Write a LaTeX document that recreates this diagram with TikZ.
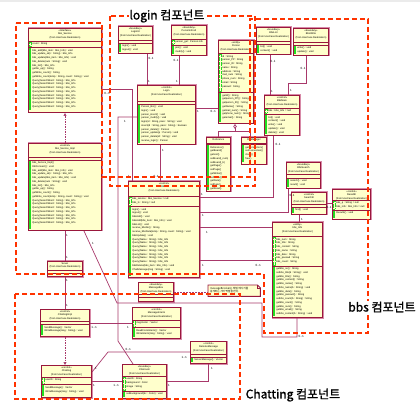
\documentclass[tikz,border=0pt]{standalone}
\usepackage{fontspec}
\setmainfont{Liberation Sans}
\newfontfamily\krfont{Noto Sans CJK KR}
\newfontfamily\krbold{Noto Sans CJK KR}[FakeBold=1.3]
\usetikzlibrary{arrows.meta}
\definecolor{boxfill}{HTML}{FFFFCC}
\definecolor{boxline}{HTML}{99173C}
\definecolor{boxhalo}{HTML}{D88AA8}
\definecolor{conn}{HTML}{A8386A}
\definecolor{comp}{HTML}{FF3300}
\definecolor{gmark}{HTML}{22DD22}
\tikzset{
 cbox/.style={preaction={draw=boxhalo, line width=2pt}, draw=boxline, fill=boxfill, line width=1pt, inner sep=0pt, rectangle},
 csep/.style={draw=boxline, line width=0.75pt},
 htx/.style={anchor=north, inner sep=0pt, align=center, font=\fontsize{2.5}{3.5}\selectfont},
 mtx/.style={anchor=north west, inner sep=0pt, align=left, font=\fontsize{2.5}{3.75}\selectfont},
 gfill/.style={fill=gmark},
 gout/.style={draw=gmark, line width=0.5pt, dash pattern=on 0.8pt off 0.5pt},
 assoc/.style={draw=conn, line width=0.7pt},
 realz/.style={draw=conn, line width=0.7pt, dash pattern=on 1.5pt off 1pt, -{Triangle[open,length=3pt,width=3pt]}},
 mlab/.style={inner sep=0pt, font=\fontsize{3}{3}\selectfont},
 compbox/.style={draw=comp, line width=1.8pt, dash pattern=on 5pt off 3pt},
 comptitle/.style={inner sep=1pt, fill=white, font=\krbold\fontsize{12}{12}\selectfont},
 notebox/.style={draw=boxline, fill=boxfill, line width=0.9pt},
}
\newcommand\ucls[5]{\node[cbox,minimum width=#4pt,minimum height=#5pt,anchor=north west] (#1) at (#2,#3) {};}
\newcommand\usep[2]{\draw[csep] ([yshift=-#2pt]#1.north west) -- ([yshift=-#2pt]#1.north east);}
\newcommand\uhdr[2]{\node[htx] (#1-h) at ([yshift=-1.2pt]#1.north) {#2};}
\newcommand\umem[4]{\node[mtx] (#1-#2) at ([xshift=4.2pt,yshift=-#3pt]#1.north west) {#4};}
\newcommand\ugrn[3]{\fill[gfill] ([xshift=0.7pt,yshift=-#2pt]#1.north west) rectangle ([xshift=3.2pt,yshift=-#3pt]#1.north west);}
\newcommand\ugro[3]{\draw[gout] ([xshift=1pt,yshift=-#2pt]#1.north west) rectangle ([xshift=3pt,yshift=-#3pt]#1.north west);}
\begin{document}
\begin{tikzpicture}[x=1pt,y=-1pt]
\useasboundingbox (0,0) rectangle (420,403);
\fill[black!8] (0,0) rectangle (420,2.5);

% ---------------- classes ----------------
\ucls{bsvc}{28}{28}{73}{84}\usep{bsvc}{13}\usep{bsvc}{19.5}
\uhdr{bsvc}{<<Interface>>\\bbs\_Service\\(from UseCase Realization)}
\ugro{bsvc}{14}{18.5}\umem{bsvc}{a}{14.8}{count : String}
\ugrn{bsvc}{20.5}{82}
\umem{bsvc}{m}{21}{bbs\_add(bbs\_item : bbs\_Info) : void\\bbs\_update\_ok(i : String) : bbs\_Info\\bbs\_update(bbs\_item : bbs\_Info) : void\\bbs\_delete(num : String) : void\\bbs\_list() : bbs\_Info\\getNo\_up() : String\\getWrite\_count() : String\\getWrite\_count(temp : String, count : String) : void\\Query(SearchWord : String) : bbs\_Info\\Query(SearchWord : String) : bbs\_Info\\Query(SearchWord : String) : bbs\_Info\\Query(SearchWord : String) : bbs\_Info\\Query(SearchWord : String) : bbs\_Info\\Query(SearchWord : String) : bbs\_Info\\Query(SearchWord : String) : bbs\_Info\\Query(SearchWord : String) : bbs\_Info}

\ucls{bimp}{28}{143}{73}{87}\usep{bimp}{14}\usep{bimp}{17}
\uhdr{bimp}{<<control>>\\bbs\_Service\_Impl\\(from UseCase Realization)}
\ugrn{bimp}{18}{86}
\umem{bimp}{m}{18.5}{bbs\_Service\_Impl()\\DBConnect() : void\\bbs\_add(bbs\_item : bbs\_Info) : void\\bbs\_update\_ok(i : String) : bbs\_Info\\bbs\_update(bbs\_item : bbs\_Info) : void\\bbs\_delete(num : String) : void\\bbs\_list() : bbs\_Info\\getNo\_up() : String\\getWrite\_count() : String\\getWrite\_count(temp : String, count : String) : void\\Query(SearchWord : String) : bbs\_Info\\Query(SearchWord : String) : bbs\_Info\\Query(SearchWord : String) : bbs\_Info\\Query(SearchWord : String) : bbs\_Info\\Query(SearchWord : String) : bbs\_Info\\Query(SearchWord : String) : bbs\_Info\\Query(SearchWord : String) : bbs\_Info}

\ucls{sever}{47}{261}{35}{15}\usep{sever}{9}\usep{sever}{12}
\uhdr{sever}{Sever\\(from UseCase Realization)}

\ucls{chimpl}{40}{309}{49}{27}\usep{chimpl}{12}\usep{chimpl}{15}
\uhdr{chimpl}{<<control>>\\ChattingImpl\\(from UseCase Realization)}
\ugrn{chimpl}{16}{26}
\umem{chimpl}{m}{17}{SendMessage() : Vector\\WriteMessage(msg : String) : void}

\ucls{chat}{41}{365}{50}{32}\usep{chat}{12}\usep{chat}{19}
\uhdr{chat}{<<control>>\\Chatting\\(from UseCase Realization)}
\ugro{chat}{13}{18}\umem{chat}{a}{13.8}{userID : String}
\ugrn{chat}{20}{31}
\umem{chat}{m}{21.5}{SendMessage() : Vector\\WriteMessage(msg : String) : void}

\ucls{msgint}{132}{307}{48}{31}\usep{msgint}{13}\usep{msgint}{20}
\uhdr{msgint}{<<control>>\\MessageInterm\\(from UseCase Realization)}
\ugro{msgint}{14}{19}\umem{msgint}{a}{14.8}{msgVector : Vector}
\ugrn{msgint}{21}{30}
\umem{msgint}{m}{22}{ReadFromInterm() : Vector\\WriteInterm(msg : String) : void}

\ucls{chroom}{122}{364}{44}{34}\usep{chroom}{12}\usep{chroom}{27}
\uhdr{chroom}{<<boundary>>\\Chatroom\\(from UseCase Realization)}
\ugro{chroom}{13}{26}\umem{chroom}{a}{13.5}{userID : String\\background : Color\\image : String}
\ugrn{chroom}{28}{33}
\umem{chroom}{m}{28.5}{setBackground(bc : Color) : void}

\ucls{remote}{190}{341}{36}{22}\usep{remote}{13}\usep{remote}{16}
\uhdr{remote}{<<control>>\\RemoteMessage\\(from UseCase Realization)}
\ugrn{remote}{17}{21}
\umem{remote}{m}{17.5}{ServerMessage() : Vector}

\ucls{msgbox}{138}{282}{35}{19}\usep{msgbox}{12}\usep{msgbox}{15}
\uhdr{msgbox}{<<boundary>>\\MessageBox\\(from UseCase Realization)}

\node[minimum width=52pt,minimum height=11pt,inner sep=0pt,anchor=north west] (note) at (208,285) {};
\draw[notebox] (note.north west) -- ([xshift=-3pt]note.north east) -- ([yshift=-3pt]note.north east) -- (note.south east) -- (note.south west) -- cycle;
\draw[boxline, line width=0.5pt] ([xshift=-3pt]note.north east) -- ([xshift=-3pt,yshift=-3pt]note.north east) -- ([yshift=-3pt]note.north east);
\node[mtx, font=\krfont\fontsize{2.6}{3.6}\selectfont] (note-t) at ([xshift=2pt,yshift=-2pt]note.north west) {messageBrocker는 채팅 메시지를\\중계하는 서버 역할을 한다.};

\ucls{dba}{128}{181}{71}{96}\usep{dba}{15}\usep{dba}{25}
\uhdr{dba}{<<control>>\\DBA\\(from UseCase Realization)}
\ugro{dba}{16}{24}\umem{dba}{a}{16.5}{bbs\_service : bbs\_Service = null\\bbs\_ls : String = null}
\ugrn{dba}{26}{95}
\umem{dba}{m}{27}{login() : void\\logout() : void\\bbsAdd() : void\\bbsAdd(bbs\_item : bbs\_Info) : void\\bbsList() : void\\receive\_bbsNo() : String\\receive\_bbsData(temp : String, count : String) : void\\bbsUpdate() : void\\Query(Name : String) : bbs\_Info\\Query(Name : String) : bbs\_Info\\Query(Name : String) : bbs\_Info\\Query(Name : String) : bbs\_Info\\Query(Name : String) : bbs\_Info\\Query(Name : String) : bbs\_Info\\Query(Name : String) : bbs\_Info\\bbsDelete(bbs\_item : bbs\_Info) : void\\ChatMessage(msg : String) : void}

\ucls{loginc}{137}{85}{58}{59}\usep{loginc}{16}\usep{loginc}{19}
\uhdr{loginc}{<<control>>\\Login\\(from UseCase Realization)}
\ugrn{loginc}{20}{58}
\umem{loginc}{m}{20.5}{Person\_Biz() : void\\login() : void\\person\_insert() : void\\person\_modify() : void\\login(id : String, pass : String) : void\\insert(id : String, pass : String) : boolean\\person\_delete() : Person\\person\_update(p : Person) : void\\person\_delete(id : String) : void\\receive\_login() : Person}

\ucls{loginui}{118}{26}{34}{27}\usep{loginui}{14}\usep{loginui}{17}
\uhdr{loginui}{<<boundary>>\\LoginUI\\(from UseCase Realization)}
\ugrn{loginui}{18}{26}
\umem{loginui}{m}{18.5}{login() : void\\logout() : void}

\ucls{infoui}{171}{25}{35}{30}\usep{infoui}{14}\usep{infoui}{20}
\uhdr{infoui}{<<boundary>>\\PersonInfoUI\\(from UseCase Realization)}
\ugro{infoui}{15}{19}\umem{infoui}{a}{15.5}{person\_get : Person.info}
\ugrn{infoui}{21}{29}
\umem{infoui}{m}{21.5}{join() : void\\modify() : void}

\ucls{person}{218}{40}{35}{83}\usep{person}{13}\usep{person}{52}
\uhdr{person}{<<entity>>\\Person\\(from UseCase Realization)}
\ugro{person}{14}{51}
\umem{person}{a}{15}{id : String\\person\_PP : String\\person\_ID : String\\name : String\\address : String\\mail\_num : String\\phone\_num : String\\email : String\\passwd : String}
\ugrn{person}{53}{82}
\umem{person}{m}{54}{getId() : String\\getperson\_PP() : String\\getperson\_ID() : String\\getName() : String\\getmail\_num() : String\\getphone\_num() : String\\getemail() : String}

\ucls{refc}{206}{137}{24}{54}\usep{refc}{6}\usep{refc}{7.5}
\node[htx] (refc-h) at ([yshift=-1.5pt]refc.north) {Reference};
\ugrn{refc}{8.5}{53}
\umem{refc}{m}{9}{Reference()\\getBoard()\\getList()\\setBoard(\_num)\\setBoard(\_b)\\getPage()\\setPage()\\getWriter()\\setWriter()\\getDate()\\setDate()\\getRead()}

\ucls{refb}{241}{137}{25}{27}\usep{refb}{6}\usep{refb}{7.5}
\node[htx] (refb-h) at ([yshift=-1.5pt]refb.north) {DBManager};
\ugrn{refb}{8.5}{25}
\umem{refb}{m}{9}{getConnection()\\setConnection()\\close()\\free()}

\ucls{b1}{256}{27}{34}{27}\usep{b1}{14}\usep{b1}{17}
\uhdr{b1}{<<boundary>>\\BbsList\\(from UseCase Realization)}
\ugrn{b1}{18}{26}
\umem{b1}{m}{18.5}{list() : void\\content() : void}

\ucls{b2}{293}{28}{35}{27}\usep{b2}{14}\usep{b2}{17}
\uhdr{b2}{<<boundary>>\\BbsWrite\\(from UseCase Realization)}
\ugrn{b2}{18}{26}
\umem{b2}{m}{18.5}{write() : void\\update() : void}

\ucls{board}{264}{95}{35}{40}\usep{board}{13}\usep{board}{19}
\uhdr{board}{<<control>>\\BbsMain\\(from UseCase Realization)}
\ugro{board}{14}{18}\umem{board}{a}{14.5}{bbs : bbs\_Info = null}
\ugrn{board}{20}{39}
\umem{board}{m}{21}{list() : void\\content() : void\\write() : void\\update() : void\\delete() : void}

\ucls{write1}{286}{162}{34}{26}\usep{write1}{12}\usep{write1}{16}
\uhdr{write1}{<<boundary>>\\BbsSearch\\(from UseCase Realization)}
\ugrn{write1}{17}{25}
\umem{write1}{m}{17.5}{search() : void\\result() : void}

\ucls{search}{291}{192}{35}{22}\usep{search}{12}\usep{search}{15}
\uhdr{search}{<<control>>\\SearchB\\(from UseCase Realization)}
\ugrn{search}{16}{21}
\umem{search}{m}{16.5}{find() : void}

\ucls{result}{332}{189}{38}{30}\usep{result}{11}\usep{result}{21}
\uhdr{result}{<<control>>\\ResultB\\(from UseCase Realization)}
\ugro{result}{12}{20}\umem{result}{a}{12.5}{bbs\_q : String = null\\bbs\_info : bbs\_Info = null}
\ugrn{result}{22}{29}
\umem{result}{m}{22.5}{Results() : void}

\ucls{binfo}{272}{222}{50}{95}\usep{binfo}{14}\usep{binfo}{44}
\uhdr{binfo}{<<entity>>\\bbs\_Info\\(from UseCase Realization)}
\ugro{binfo}{15}{43}
\umem{binfo}{a}{16}{bbs\_num : String\\bbs\_title : String\\bbs\_content : String\\bbs\_name : String\\bbs\_date : String\\bbs\_passwd : String\\bbs\_count : String}
\ugrn{binfo}{45}{94}
\umem{binfo}{m}{45.5}{getbbs\_no() : String\\setbbs\_title(b : String) : void\\getbbs\_title() : String\\getbbs\_content() : String\\getbbs\_name() : String\\setbbs\_name(b : String) : void\\getbbs\_date() : String\\getbbs\_passwd() : String\\setbbs\_count(b : String) : String\\getbbs\_count() : String\\getbbs\_num() : String\\getbbs\_email() : String\\setbbs\_content(b : String) : void}

% ---------------- connectors ----------------
\draw[realz] (bimp.north) -- (bsvc.south);
\draw[realz] (chimpl.south) -- (chimpl.south |- chat.north);
\draw[assoc] (bimp.south) -- (sever.north);
\draw[assoc] (sever.south) -- (chimpl.north);
\draw[assoc] (chimpl.east) -- (chimpl.east -| msgint.west);
\draw[assoc] (chat.east |- 0,372) -- (108,352) -- (remote.west |- 0,352);
\draw[assoc] (chat.east) -- (chroom.west);
\draw[assoc] (chroom.east) -| (remote.south);
\draw[assoc, dash pattern=on 2pt off 1pt] (msgbox.east) -- (msgbox.east -| note.west);
\draw[assoc] (loginui.south -| 147,0) -- (loginc.north -| 147,0);
\draw[assoc] (infoui.south -| 179,0) -- (loginc.north -| 179,0);
\draw[assoc] (loginc.east |- 0,108) -- (person.west |- 0,108);
\draw[assoc] (loginc.south -| 160,0) -- (dba.north -| 160,0);
\draw[assoc, {Diamond[open,length=5pt,width=3.5pt]}-] (person.south -| 235,0) -- (235,131) -| (refc.north);
\draw[assoc] (235,131) -| (refb.north -| 250,0);
\draw[assoc] (b1.south -| 270,0) -- (board.north -| 270,0);
\draw[assoc] (b2.south -| 306,0) -- (306,83) -- (288,83) -- (board.north -| 288,0);
\draw[assoc] (board.south -| 273,0) |- (dba.east |- 0,197);
\draw[assoc] (dba.east |- 0,212) -| (write1.south -| 288,0);
\draw[assoc] (dba.east |- 0,227) -- (binfo.west |- 0,227);
\draw[assoc] (dba.east |- 0,260) -- (binfo.west |- 0,260);
\draw[assoc] (search.south -| 299,0) -- (binfo.north -| 299,0);
\draw[assoc] (search.east) -- (search.east -| result.west);
\draw[assoc] (bsvc.east |- 0,89) -| (dba.north -| 132,0);
\draw[assoc] (loginc.west |- 0,117) -- (118,117) -- (118,341) -- (chroom.north -| 133,0);
\draw[assoc] (bimp.south east -| 84,0) -- (117,303) -- (262,303) -- (262,337) -- (297,337) -- (binfo.south -| 297,0);

% multiplicities
\node[mlab] (m1) at (67,235) {1};
\node[mlab] (m2) at (67,257) {1};
\node[mlab] (m3) at (67,280) {1};
\node[mlab] (m4) at (67,305) {1};
\node[mlab] (m5) at (94,327) {1..n};
\node[mlab] (m6) at (128,327) {1};
\node[mlab] (m7) at (96,368) {1};
\node[mlab] (m8) at (184,357) {1..n};
\node[mlab] (m9) at (94,385) {1};
\node[mlab] (m10) at (116,385) {1..n};
\node[mlab] (m11) at (169,385) {1};
\node[mlab] (m12) at (212,368) {1};
\node[mlab] (m13) at (151,58) {0..1};
\node[mlab] (m14) at (149,81) {1};
\node[mlab] (m15) at (176,60) {0..1};
\node[mlab] (m16) at (177,81) {1};
\node[mlab] (m17) at (198,111) {1};
\node[mlab] (m18) at (213,111) {0..n};
\node[mlab] (m19) at (273,61) {0..1};
\node[mlab] (m20) at (272,91) {1};
\node[mlab] (m21) at (303,68) {0..1};
\node[mlab] (m22) at (291,90) {1};
\node[mlab] (m23) at (278,144) {0..1};
\node[mlab] (m24) at (202,194) {1};
\node[mlab] (m25) at (203,215) {1};
\node[mlab] (m26) at (292,195) {0..1};
\node[mlab] (m27) at (207,232) {1};
\node[mlab] (m28) at (203,265) {1};
\node[mlab] (m29) at (258,265) {0..n};
\node[mlab] (m30) at (302,219) {1};
\node[mlab] (m31) at (329,207) {0..1};
\node[mlab] (m32) at (107,93) {0..n};
\node[mlab] (m33) at (129,176) {1};
\node[mlab] (m34) at (125,121) {1};
\node[mlab] (m35) at (128,349) {0..n};
\node[mlab] (m36) at (93,243) {1};
\node[mlab] (m37) at (301,336) {0..n};
\node[mlab] (m38) at (163,150) {1};
\node[mlab] (m39) at (156,176) {0..1};

% ---------------- components ----------------
\draw[compbox] (110,16) rectangle (255,186);
\draw[compbox] (16,23) -- (102,23) -- (102,177) -- (250,177) -- (250,19) -- (368,19) -- (368,333) -- (264,333) -- (264,274) -- (16,274) -- cycle;
\draw[compbox] (15,294) rectangle (240,399);
\node[comptitle] (tlogin) at (167,16) {login 컴포넌트};
\node[comptitle] (tbbs) at (382,307) {bbs 컴포넌트};
\node[comptitle] (tchat) at (293,395) {Chatting 컴포넌트};
\end{tikzpicture}
\end{document}
